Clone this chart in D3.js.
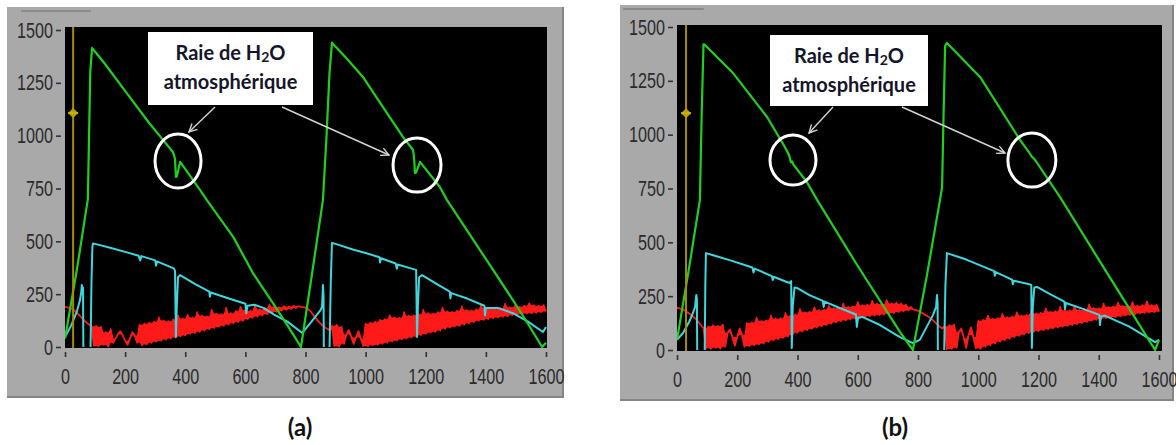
<!DOCTYPE html>
<html><head><meta charset="utf-8">
<script src="https://cdn.jsdelivr.net/npm/d3@7"></script>
<style>body{margin:0;background:#fff;}svg{display:block}</style>
</head><body>
<svg id="c" width="1176" height="445"></svg>
<script>
// ---------- data ----------
const xTicks = [0,200,400,600,800,1000,1200,1400,1600];
const yTicks = [0,250,500,750,1000,1250,1500];
const captions = ["(a)","(b)"];
const annotLine1 = "Raie de H", annotSub = "2", annotLine1b = "O";
const annotLine2 = "atmosphérique";

// panel (a)
const greenA = [[0,40],[40,370],[76,700],[80,1000],[84,1300],[90,1415],[130,1345],[206,1200],[280,1060],[326,980],[359,923],[366,890],[369,805],[372,808],[383,876],[449,743],[472,695],[560,520],[625,350],[700,190],[750,80],[785,0],[820,330],[858,695],[870,1000],[880,1300],[888,1440],[940,1360],[991,1278],[1060,1130],[1124,994],[1158,932],[1162,880],[1164,823],[1168,826],[1181,876],[1247,757],[1271,695],[1380,460],[1490,222],[1540,110],[1587,0],[1600,20]];
const cyanA = [[0,47],[20,100],[40,170],[50,222],[54,260],[56,293],[58,270],[60,280],[61,0],[null,null],[85,0],[88,300],[91,470],[93,490],[100,488],[150,470],[200,450],[245,432],[250,410],[254,430],[300,410],[303,385],[306,405],[340,385],[362,372],[366,360],[369,47],[372,200],[376,330],[383,340],[430,300],[480,262],[482,238],[485,258],[540,232],[600,205],[603,160],[607,195],[630,200],[660,185],[700,150],[740,120],[789,66],[820,120],[850,175],[855,190],[858,293],[860,240],[861,0],[null,null],[880,0],[884,300],[888,492],[900,488],[960,460],[1000,445],[1046,425],[1048,400],[1051,420],[1100,395],[1104,370],[1107,390],[1150,372],[1168,365],[1171,47],[1174,200],[1178,330],[1188,340],[1240,295],[1280,262],[1282,230],[1285,255],[1340,228],[1395,195],[1397,150],[1400,185],[1440,185],[1490,160],[1540,120],[1590,71],[1600,95]];
// red signal sampled every 8 units from 0 to 1600
const redA = [190,188,185,180,172,162,150,138,126,115,106,98,
5,100,3,95,10,70,2,85,20,40,60,75,55,30,10,40,70,55,20,105,8,110,12,115,20,120,25,140,30,125,35,122,40,130,45,150,50,135,55,152,62,140,66,165,72,148,78,145,84,175,90,158,95,155,100,185,106,160,112,170,118,190,124,175,132,172,138,198,144,178,150,185,155,200,160,190,166,188,172,193,176,192,180,195,184,193,
190,189,186,180,170,155,140,126,114,103,94,86,80,
100,4,105,2,95,15,60,80,50,15,45,75,40,5,110,3,115,8,120,10,128,15,132,20,150,26,140,30,138,36,165,40,148,45,150,50,155,56,175,62,160,68,158,72,165,78,185,86,168,92,166,96,172,100,192,106,175,112,173,118,178,124,198,128,182,132,180,136,186,140,184,143,205,146,188,150,193,152,191,155,195,158,206,160,197,162,195,165,198,168];

// panel (b)
const greenB = [[0,47],[40,380],[76,697],[82,1100],[88,1420],[92,1418],[186,1286],[299,1082],[358,943],[372,905],[378,872],[382,876],[386,862],[431,780],[465,697],[600,390],[740,84],[783,0],[830,350],[873,697],[880,757],[885,1100],[890,1412],[896,1426],[1006,1268],[1139,975],[1170,915],[1178,897],[1182,893],[1190,880],[1271,711],[1400,420],[1504,186],[1587,0],[1600,47]];
const cyanB = [[0,47],[20,79],[40,130],[53,172],[60,200],[64,255],[66,240],[67,0],[null,null],[92,0],[94,300],[96,450],[120,440],[180,415],[250,383],[254,360],[258,378],[315,343],[318,325],[321,340],[360,318],[375,311],[379,320],[381,9],[384,200],[390,290],[398,288],[440,255],[484,228],[487,200],[490,225],[540,195],[594,165],[597,107],[601,150],[617,153],[674,116],[740,60],[783,32],[806,47],[850,163],[860,200],[863,255],[865,220],[866,0],[null,null],[887,0],[891,300],[896,450],[960,420],[1053,366],[1055,345],[1058,362],[1112,327],[1115,305],[1118,322],[1170,305],[1176,302],[1178,9],[1181,200],[1186,290],[1195,293],[1240,258],[1286,225],[1288,190],[1291,218],[1350,190],[1402,163],[1404,116],[1407,155],[1420,160],[1500,110],[1587,37],[1600,47]];
const redB = [195,193,190,185,178,170,162,152,142,128,114,102,
8,110,5,115,10,112,6,118,15,80,95,60,20,60,100,70,15,125,18,128,22,150,26,135,30,138,38,160,45,145,50,148,56,172,62,158,70,165,80,190,86,175,92,178,98,198,104,185,110,188,116,205,122,194,128,196,134,215,138,200,142,203,146,222,150,208,154,210,157,228,160,215,162,214,165,232,168,216,172,220,176,215,180,210,184,200,
188,186,182,176,170,163,157,150,140,130,118,108,100,
110,3,115,5,118,10,85,100,55,10,70,105,60,8,135,5,140,15,160,22,145,30,148,38,168,45,152,52,155,60,175,66,160,72,163,78,185,84,170,88,172,92,192,96,178,100,180,104,200,108,185,112,184,116,205,120,186,125,190,130,212,135,195,140,194,144,215,148,200,150,202,153,220,156,205,160,204,163,222,166,206,170,208,172,225,174,208,176,210,178];

const cursorX = [27, 30], cursorY = [1107, 1100];
const h2oMarksA = [[376,880],[1171,861]];
const h2oMarksB = [[385,882],[1178,882]];

// ---------- layout ----------
const panels = [
  {frame:{x:7,y:7,w:557,h:391}, xr:[65,546], yr:[347,30], plot:{x:65,y:27,w:482,h:321},
   green:greenA, cyan:cyanA, red:redA, ci:0, marks:h2oMarksA, ell:[[23,27],[24,27]],
   box:{x:148,y:32,w:165,h:73}, arrows:[[215,107,189,132],[282,107,389,155]], tab:[22,90,11], cap:[300,430]},
  {frame:{x:620,y:5,w:554,h:396}, xr:[677,1159], yr:[350,27], plot:{x:677,y:25,w:485,h:326},
   green:greenB, cyan:cyanB, red:redB, ci:1, marks:h2oMarksB, ell:[[23,25],[24,27]],
   box:{x:770,y:35,w:158,h:71}, arrows:[[833,107,809,133],[902,107,1005,153]], tab:[624,703,9], cap:[895,430]}
];

const svg = d3.select("#c");
const defs = svg.append("defs");
defs.append("marker").attr("id","ah").attr("viewBox","0 0 10 10").attr("refX",9).attr("refY",5)
  .attr("markerWidth",10).attr("markerHeight",10).attr("markerUnits","userSpaceOnUse").attr("orient","auto")
  .append("path").attr("d","M1,1 L9,5 L1,9").attr("fill","none").attr("stroke","#d4d4d4").attr("stroke-width",1.4);

const tickFont = "'Liberation Sans',Arial,sans-serif";

panels.forEach((p,pi)=>{
  const g = svg.append("g");
  const f = p.frame;
  // frame
  g.append("rect").attr("x",f.x).attr("y",f.y).attr("width",f.w).attr("height",f.h).attr("fill","#a9a9a9");
  g.append("line").attr("x1",f.x+f.w-1).attr("x2",f.x+f.w-1).attr("y1",f.y).attr("y2",f.y+f.h).attr("stroke","#858585").attr("stroke-width",2);
  g.append("line").attr("x1",f.x).attr("x2",f.x+f.w).attr("y1",f.y+f.h-1).attr("y2",f.y+f.h-1).attr("stroke","#858585").attr("stroke-width",2);
  g.append("line").attr("x1",p.tab[0]).attr("x2",p.tab[1]).attr("y1",p.tab[2]).attr("y2",p.tab[2]).attr("stroke","#8a8a8a").attr("stroke-width",2).attr("stroke-linecap","round");
  // plot
  g.append("rect").attr("x",p.plot.x).attr("y",p.plot.y).attr("width",p.plot.w).attr("height",p.plot.h).attr("fill","#000");
  const x = d3.scaleLinear().domain([0,1600]).range(p.xr);
  const y = d3.scaleLinear().domain([0,1500]).range(p.yr);
  const cid = "clip"+pi;
  defs.append("clipPath").attr("id",cid).append("rect").attr("x",p.plot.x).attr("y",p.plot.y).attr("width",p.plot.w).attr("height",p.plot.h);

  // axes
  const by = p.plot.y + p.plot.h;
  const xa = g.append("g").attr("transform",`translate(0,${by+4})`)
    .call(d3.axisBottom(x).tickValues(xTicks).tickSize(5).tickPadding(11).tickFormat(d3.format("d")));
  xa.select(".domain").remove();
  const ya = g.append("g").attr("transform",`translate(${p.plot.x-4},0)`)
    .call(d3.axisLeft(y).tickValues(yTicks).tickSize(5).tickPadding(3).tickFormat(d3.format("d")));
  ya.select(".domain").remove();
  [xa,ya].forEach(a=>{
    a.selectAll("line").attr("stroke","#333").attr("stroke-width",1.6);
    a.selectAll("text").attr("fill","#2b2b2b").style("font-family",tickFont).style("font-size","22px")
      .attr("textLength",function(){return this.textContent.length*9;}).attr("lengthAdjust","spacingAndGlyphs");
  });

  const dg = g.append("g").attr("clip-path",`url(#${cid})`);
  // red: fill the gaps of the oscillating signal, then the signal itself
  const n = p.red.length;
  const band = p.red.map((v,i)=>{
    const a = p.red[Math.max(0,i-1)], c = p.red[Math.min(n-1,i+1)];
    return [i*8, Math.min(v, Math.max(a,c)), Math.max(v, Math.min(a,c))];
  });
  dg.append("path").attr("d", d3.area().x(d=>x(d[0])).y0(d=>y(d[1])).y1(d=>y(d[2]))(band))
    .attr("fill","#ff1a1a");
  dg.append("path").attr("d", d3.line().x((d,i)=>x(i*8)).y(d=>y(d))(p.red))
    .attr("fill","none").attr("stroke","#ff1a1a").attr("stroke-width",1.8).attr("stroke-linejoin","round");
  // cyan
  const ln = d3.line().defined(d=>d[0]!==null).x(d=>x(d[0])).y(d=>y(d[1]));
  dg.append("path").attr("d", ln(p.cyan)).attr("fill","none").attr("stroke","#3fd6dd").attr("stroke-width",2).attr("stroke-linejoin","round");
  // green
  dg.append("path").attr("d", ln(p.green)).attr("fill","none").attr("stroke","#1fd11f").attr("stroke-width",2.2).attr("stroke-linejoin","round");
  // cursor
  const cx = x(cursorX[p.ci]), cy = y(cursorY[p.ci]);
  dg.append("line").attr("x1",cx).attr("x2",cx).attr("y1",p.plot.y).attr("y2",by).attr("stroke","#a38d00").attr("stroke-width",2);
  dg.append("path").attr("d",`M${cx},${cy-5} L${cx+5},${cy} L${cx},${cy+5} L${cx-5},${cy} Z`).attr("fill","#b8a000");
  g.append("path").attr("d",`M${cx-5},${cy} L${cx+5},${cy}`).attr("stroke","#c8b000").attr("stroke-width",2);

  // annotations
  p.marks.forEach((m,k)=>{
    g.append("ellipse").attr("cx",x(m[0])).attr("cy",y(m[1])).attr("rx",p.ell[k][0]).attr("ry",p.ell[k][1])
      .attr("fill","none").attr("stroke","#fff").attr("stroke-width",3);
  });
  p.arrows.forEach(a=>{
    g.append("line").attr("x1",a[0]).attr("y1",a[1]).attr("x2",a[2]).attr("y2",a[3])
      .attr("stroke","#d4d4d4").attr("stroke-width",1.4).attr("marker-end","url(#ah)");
  });
  const b = p.box;
  g.append("rect").attr("x",b.x).attr("y",b.y).attr("width",b.w).attr("height",b.h).attr("fill","#fff");
  const t1 = g.append("text").attr("x",b.x+b.w/2).attr("y",b.y+28).attr("text-anchor","middle")
    .style("font-family","Lato,'Open Sans',sans-serif").style("font-weight","bold").style("font-size","20px").attr("fill","#15152a");
  t1.append("tspan").text(annotLine1);
  t1.append("tspan").text(annotSub).style("font-size","14px").attr("dy",2);
  t1.append("tspan").text(annotLine1b).attr("dy",-2);
  g.append("text").attr("x",b.x+b.w/2).attr("y",b.y+57).attr("text-anchor","middle")
    .style("font-family","Lato,'Open Sans',sans-serif").style("font-weight","bold").style("font-size","20px").attr("fill","#15152a")
    .text(annotLine2);

  g.append("text").attr("x",p.cap[0]).attr("y",p.cap[1]).attr("text-anchor","middle").attr("dominant-baseline","middle")
    .style("font-family","Lato,'Open Sans',sans-serif").style("font-weight","bold").style("font-size","24px").attr("fill","#111")
    .text(captions[pi]);
});
</script>
</body></html>
